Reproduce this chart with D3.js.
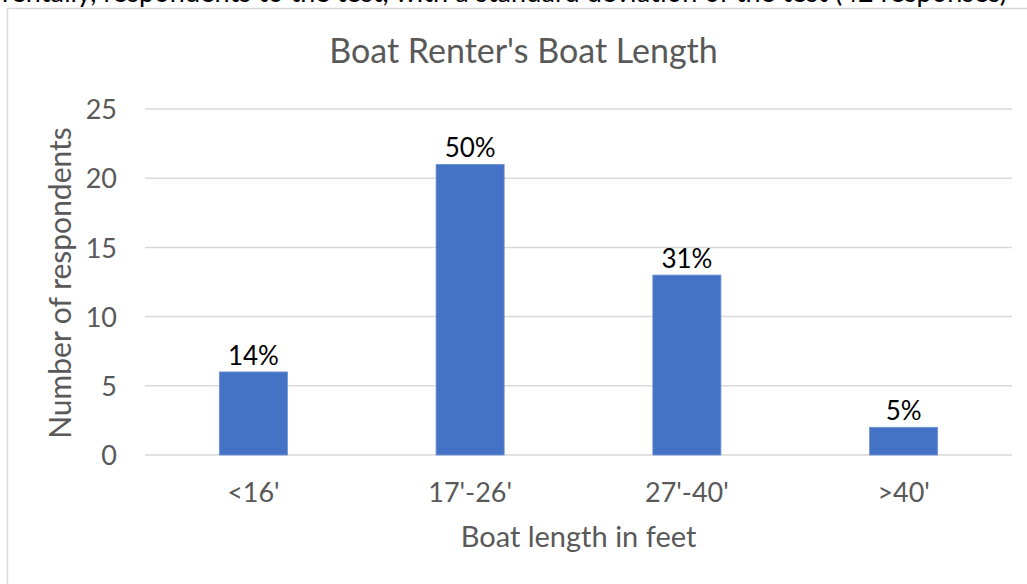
<!DOCTYPE html>
<html>
<head>
<meta charset="utf-8">
<script src="https://cdn.jsdelivr.net/npm/d3@7"></script>
<style>
  html, body { margin: 0; padding: 0; background: #fff; overflow: hidden; }
  svg { display: block; }
  text { font-family: Lato, "Open Sans", sans-serif; }
</style>
</head>
<body>
<svg id="chart" width="1027" height="584"></svg>
<script>
// ---- data ----
const categories = ["<16'", "17'-26'", "27'-40'", ">40'"];
const respondents = [6, 21, 13, 2];
const percentLabels = ["14%", "50%", "31%", "5%"];
const yTicks = [0, 5, 10, 15, 20, 25];
const chartTitle = "Boat Renter's Boat Length";
const xTitle = "Boat length in feet";
const yTitle = "Number of respondents";
const clippedCaption = "rentally, respondents to the test, with a standard deviation of the test (42 responses)";

// ---- layout ----
const plot = { left: 145, right: 1012, top: 109, bottom: 455 };

const svg = d3.select("#chart");

// clipped caption from page above the chart
svg.append("text")
  .attr("x", 2).attr("y", 2)
  .attr("textLength", 1005)
  .attr("lengthAdjust", "spacing")
  .attr("font-size", 27)
  .attr("fill", "#000")
  .text(clippedCaption);

// chart frame
svg.append("rect")
  .attr("x", 7.5).attr("y", 8.5)
  .attr("width", 1032).attr("height", 620)
  .attr("fill", "#fff")
  .attr("stroke", "#d9d9d9").attr("stroke-width", 1.5);

const x = d3.scaleBand()
  .domain(categories)
  .range([plot.left, plot.right])
  .paddingInner(0.686)
  .paddingOuter(0.343);

const y = d3.scaleLinear()
  .domain([0, 25])
  .range([plot.bottom, plot.top]);

// gridlines
svg.append("g")
  .selectAll("line")
  .data(yTicks)
  .join("line")
  .attr("x1", plot.left).attr("x2", plot.right)
  .attr("y1", d => y(d)).attr("y2", d => y(d))
  .attr("stroke", "#d9d9d9").attr("stroke-width", 1.5);

// y axis labels
const yAxis = d3.axisLeft(y).tickValues(yTicks).tickSize(0).tickPadding(0);
const gy = svg.append("g").attr("transform", `translate(${plot.left - 28},0)`).call(yAxis);
gy.select(".domain").remove();
gy.selectAll("text")
  .attr("font-family", "Lato, 'Open Sans', sans-serif")
  .attr("font-size", 27)
  .attr("fill", "#595959")
  .attr("dy", "0.36em");

// bars
svg.append("g")
  .selectAll("rect")
  .data(respondents)
  .join("rect")
  .attr("x", (d, i) => x(categories[i]))
  .attr("y", d => y(d))
  .attr("width", x.bandwidth())
  .attr("height", d => y(0) - y(d))
  .attr("fill", "#4472c4")
  .attr("stroke", "#6f91d3")
  .attr("stroke-width", 0.8);

// data labels
svg.append("g")
  .selectAll("text")
  .data(respondents)
  .join("text")
  .attr("x", (d, i) => x(categories[i]) + x.bandwidth() / 2)
  .attr("y", d => y(d) - 7)
  .attr("text-anchor", "middle")
  .attr("font-size", 26)
  .attr("fill", "#000")
  .text((d, i) => percentLabels[i]);

// x axis labels
const xAxis = d3.axisBottom(x).tickSize(0).tickPadding(0);
const gx = svg.append("g").attr("transform", `translate(0,${plot.bottom})`).call(xAxis);
gx.select(".domain").remove();
gx.selectAll("text")
  .attr("font-family", "Lato, 'Open Sans', sans-serif")
  .attr("font-size", 27)
  .attr("fill", "#595959")
  .attr("dy", null)
  .attr("y", 47);

// titles
svg.append("text")
  .attr("x", 523.5).attr("y", 63)
  .attr("text-anchor", "middle")
  .attr("font-size", 34)
  .attr("fill", "#595959")
  .text(chartTitle);

svg.append("text")
  .attr("x", (plot.left + plot.right) / 2).attr("y", 547)
  .attr("text-anchor", "middle")
  .attr("font-size", 29)
  .attr("fill", "#595959")
  .text(xTitle);

svg.append("text")
  .attr("transform", `translate(71,${(plot.top + plot.bottom) / 2 + 1}) rotate(-90)`)
  .attr("text-anchor", "middle")
  .attr("font-size", 30)
  .attr("fill", "#595959")
  .text(yTitle);
</script>
</body>
</html>
